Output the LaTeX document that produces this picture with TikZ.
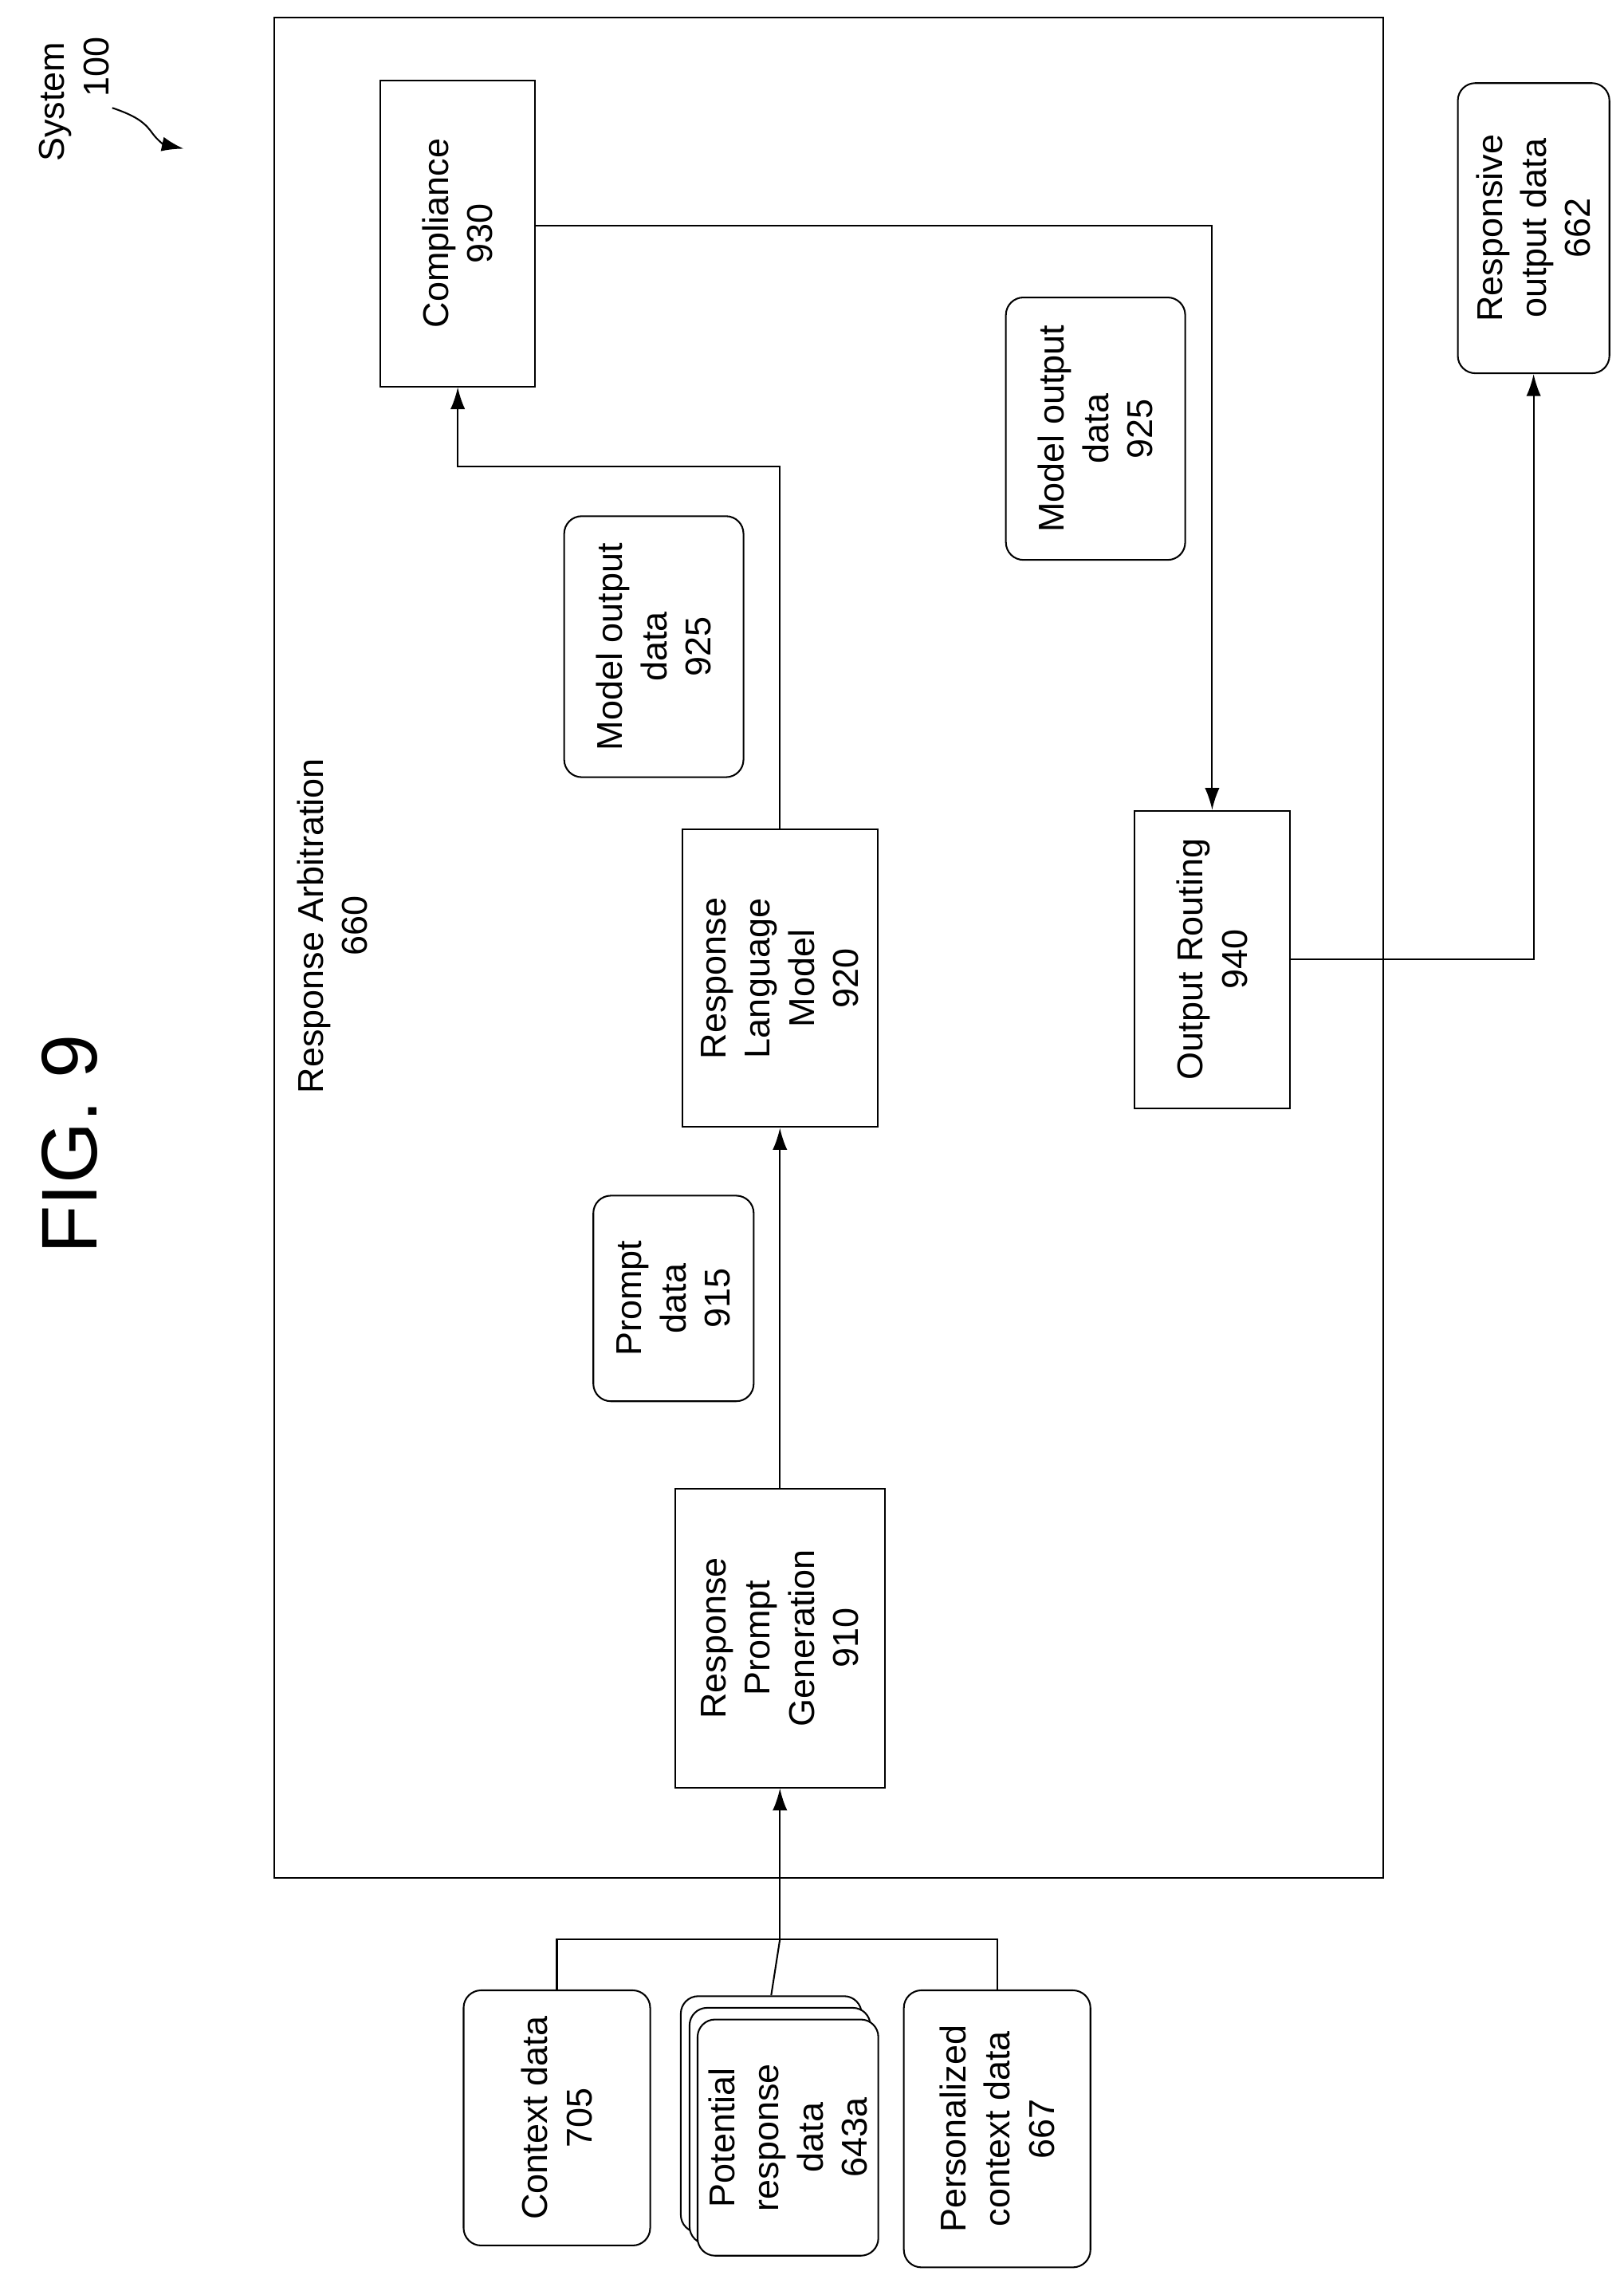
\documentclass[tikz,border=0pt]{standalone}
\usepackage{fontspec}
\setmainfont{Liberation Sans}
\usetikzlibrary{arrows.meta}
\begin{document}
\begin{tikzpicture}[x=0.05cm,y=-0.05cm,
  every node/.style={font=\fontsize{35}{43}\selectfont, align=center, inner sep=0pt},
  bx/.style={draw, line width=1.6pt, rotate=90, fill=white},
  rb/.style={bx, rounded corners=0.6cm},
  ln/.style={line width=1.6pt},
  ar/.style={ln, -{Latex[length=0.75cm,width=0.5cm]}}]
\useasboundingbox (0,0) rectangle (1114,1563);
\node[rotate=90, font=\fontsize{77}{80}\selectfont] (fig) at (48,785) {FIG. 9};
\node[rotate=90] (sys) at (38,70) {System};
\node[rotate=90] (sysn) at (66,46) {100};
\coordinate (sa) at (77,74);
\coordinate (sb) at (126,102);
\draw[ar] (sa) .. controls (95,80) and (100,85) .. (105,92) .. controls (108,96) and (112,99) .. (sb);
\draw[line width=1.6pt] (188,12) rectangle (949,1288);
\node[rotate=90] (ra) at (228,635) {Response Arbitration\\660};
\node[bx, minimum width=10.5cm, minimum height=5.3cm] (comp) at (314,160) {Compliance\\930};
\node[rb, minimum width=8.95cm, minimum height=6.15cm] (mod1) at (448.5,443.5) {Model output\\data\\925};
\node[bx, minimum width=10.2cm, minimum height=6.7cm] (rlm) at (535,671) {Response\\Language\\Model\\920};
\node[rb, minimum width=7.05cm, minimum height=5.5cm] (prm) at (462,890.5) {Prompt\\data\\915};
\node[bx, minimum width=10.25cm, minimum height=7.2cm] (rpg) at (535,1123.5) {Response\\Prompt\\Generation\\910};
\node[rb, minimum width=9cm, minimum height=6.15cm] (mod2) at (751.5,294) {Model output\\data\\925};
\node[bx, minimum width=10.2cm, minimum height=5.35cm] (outr) at (831.5,658) {Output Routing\\940};
\node[rb, minimum width=9.95cm, minimum height=5.2cm] (resp) at (1052,156.5) {Responsive\\output data\\662};
\node[rb, minimum width=8.75cm, minimum height=6.4cm] (ctx) at (382,1452.5) {Context data\\705};
\node[rb, minimum width=8.1cm, minimum height=6.2cm] (st3) at (529,1450) {};
\node[rb, minimum width=8.1cm, minimum height=6.2cm] (st2) at (535,1458) {};
\node[rb, minimum width=8.1cm, minimum height=6.2cm] (st1) at (540.5,1466) {Potential\\response\\data\\643a};
\node[rb, minimum width=9.5cm, minimum height=6.4cm] (pers) at (684,1460) {Personalized\\context data\\667};
\coordinate (j) at (535,1330);
\draw[ln] (ctx.east) |- (j) -| (pers.east);
\draw[ln] (st3.east) -- (j);
\draw[ar] (j) -- (rpg.west);
\draw[ar] (rpg.east) -- (rlm.west);
\draw[ar] (rlm.east) |- (314,320) -- (comp.west);
\draw[ar] (comp.south |- 0,155) -| (outr.east);
\draw[ar] (outr.south) -| (resp.west);
\end{tikzpicture}
\end{document}
